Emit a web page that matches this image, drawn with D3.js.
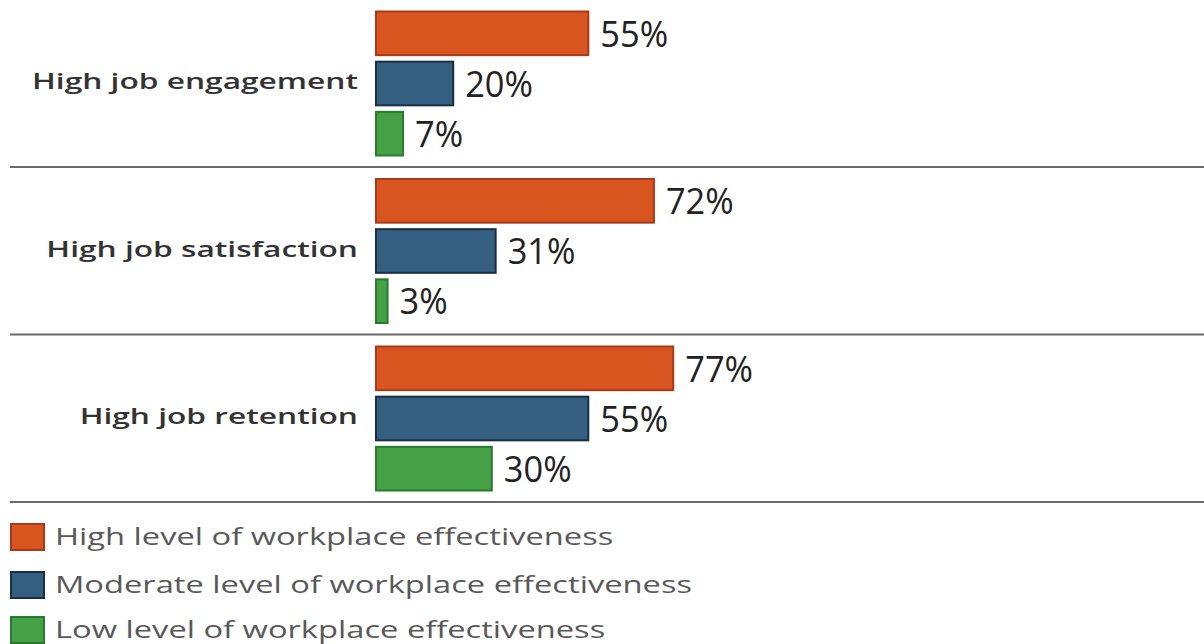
<!DOCTYPE html>
<html><head><meta charset="utf-8">
<script src="https://cdn.jsdelivr.net/npm/d3@7"></script>
<style>body{margin:0;background:#fff}</style>
</head><body>
<svg id="c" width="1204" height="644"></svg>
<script>
const categories = ["High job engagement", "High job satisfaction", "High job retention"];
const seriesNames = ["High level of workplace effectiveness", "Moderate level of workplace effectiveness", "Low level of workplace effectiveness"];
const highValues = [55, 72, 77];
const moderateValues = [20, 31, 55];
const lowValues = [7, 3, 30];
const fills = ["#D9551F", "#345F80", "#45A046"];
const strokes = ["#A8391A", "#1B2E44", "#2A7A2E"];

// horizontal stretch of the original artwork (style only)
const catStretch = 1.44, legStretch = 1.42, valStretch = 0.93;

const svg = d3.select("#c");
const series = [highValues, moderateValues, lowValues];
const x = d3.scaleLinear().domain([0, 100]).range([376, 762]);
const y0 = d3.scaleBand().domain(categories).range([-0.5, 502]);
const y1 = d3.scaleBand().domain([0,1,2]).range([12, 156]).paddingInner(0.13);

function stretch(sel, f) {
  sel.each(function() {
    const w = this.getComputedTextLength();
    d3.select(this).attr("textLength", w * f).attr("lengthAdjust", "spacingAndGlyphs");
  });
}

categories.forEach((cat, ci) => {
  const g = svg.append("g").attr("transform", `translate(0,${y0(cat)})`);
  series.forEach((vals, si) => {
    const v = vals[ci];
    g.append("rect")
      .attr("x", x(0)).attr("y", y1(si))
      .attr("width", x(v) - x(0)).attr("height", y1.bandwidth())
      .attr("fill", fills[si]).attr("stroke", strokes[si]).attr("stroke-width", 2);
    g.append("text")
      .attr("x", x(v) + 12).attr("y", y1(si) + y1.bandwidth()/2)
      .attr("dy", "0.36em")
      .attr("font-family", "'Open Sans',sans-serif")
      .attr("font-size", 37).attr("fill", "#222")
      .text(v + "%")
      .call(stretch, valStretch);
  });
  g.append("text")
    .attr("x", 358).attr("y", y1(1) + y1.bandwidth()/2 - 2)
    .attr("dy", "0.36em").attr("text-anchor", "end")
    .attr("font-family", "'Open Sans', sans-serif")
    .attr("font-weight", 600).attr("font-size", 22).attr("fill", "#333")
    .text(cat)
    .call(stretch, catStretch);
  g.append("line")
    .attr("x1", 10).attr("x2", 1204)
    .attr("y1", y0.bandwidth()).attr("y2", y0.bandwidth())
    .attr("stroke", "#6a6a6a").attr("stroke-width", 2);
});

const legY = [537, 585, 630];
seriesNames.forEach((name, i) => {
  svg.append("rect").attr("x", 11).attr("y", legY[i] - 13).attr("width", 33).attr("height", 26)
    .attr("fill", fills[i]).attr("stroke", strokes[i]).attr("stroke-width", 2);
  svg.append("text").attr("x", 55).attr("y", legY[i]).attr("dy", "0.36em")
    .attr("font-family", "'Open Sans', sans-serif").attr("font-size", 23).attr("fill", "#595959")
    .text(name)
    .call(stretch, legStretch);
});
</script>
</body></html>
